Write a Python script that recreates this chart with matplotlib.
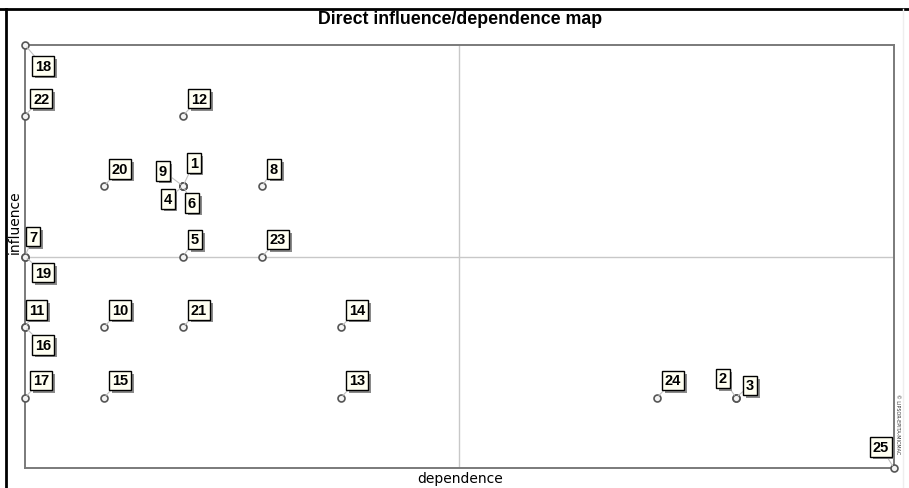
import numpy as np
import matplotlib
matplotlib.use("Agg")
from matplotlib import pyplot as plt
from matplotlib.lines import Line2D
from matplotlib import patheffects

# variable labels and their position on the map
names = [str(i) for i in range(1, 26)]
dependence = [2, 9, 9, 2, 2, 2, 0, 3, 2, 1, 0, 2, 4, 4, 1, 0, 0, 0, 0, 1, 2, 0, 3, 8, 11]
influence = [4, 1, 1, 4, 3, 4, 3, 4, 4, 2, 2, 5, 1, 2, 1, 2, 1, 6, 3, 4, 2, 5, 3, 1, 0]

# label placement (pixels from the point), default is up-right
default_off = (8, 10, 'left', 'bottom')
label_off = {
    '18': (10, -14, 'left', 'top'),
    '19': (10, -9, 'left', 'top'),
    '16': (10, -11, 'left', 'top'),
    '7': (4, 13, 'left', 'bottom'),
    '11': (4, 10, 'left', 'bottom'),
    '9': (-16, 8, 'right', 'bottom'),
    '1': (7, 16, 'left', 'bottom'),
    '4': (-11, -6, 'right', 'top'),
    '6': (5, -10, 'left', 'top'),
    '2': (-9, 12, 'right', 'bottom'),
    '3': (10, 5, 'left', 'bottom'),
    '25': (-5, 14, 'right', 'bottom'),
}

fig = plt.figure(figsize=(9.09, 4.89), dpi=100)
ax = fig.add_axes([25 / 909, 1 - 469 / 489, 869 / 909, 423 / 489])
ax.set_xlim(0, 11)
ax.set_ylim(0, 6)
ax.set_xticks([])
ax.set_yticks([])
for s in ax.spines.values():
    s.set_color('#7a7a7a')
    s.set_linewidth(1.4)

ax.axvline(5.5, color='#c8c8c8', lw=1)
ax.axhline(3, color='#c8c8c8', lw=1)

ax.plot(dependence, influence, 'o', ms=5, mfc='#f4f4f4', mec='#555555', mew=1.2,
        zorder=5, clip_on=False)

shadow = [patheffects.SimplePatchShadow(offset=(2, -2), shadow_rgbFace='#8a8a8a', alpha=1),
          patheffects.Normal()]
for n, x, y in zip(names, dependence, influence):
    dx, dy, ha, va = label_off.get(n, default_off)
    t = ax.annotate(n, (x, y), xytext=(dx, dy), textcoords='offset pixels',
                    ha=ha, va=va, fontsize=10.5, fontweight='bold', family='Liberation Sans',
                    color='black',
                    bbox=dict(boxstyle='square,pad=0.18', fc='#fffff2', ec='black', lw=1),
                    arrowprops=dict(arrowstyle='-', color='#c0c0c0', lw=0.8,
                                    shrinkA=0, shrinkB=2),
                    zorder=7, annotation_clip=False)
    t.get_bbox_patch().set_path_effects(shadow)

fig.text(460 / 909, 1 - 20 / 489, 'Direct influence/dependence map', ha='center',
         va='center', fontsize=12.8, fontweight='bold', family='Liberation Sans')
fig.text(15 / 909, 1 - 222 / 489, 'influence', ha='center', va='center',
         rotation=90, fontsize=10, family='DejaVu Sans')
fig.text(460 / 909, 1 - 479 / 489, 'dependence', ha='center', va='center',
         fontsize=10, family='DejaVu Sans')
fig.text(898 / 909, 1 - 424 / 489, '\u00a9 LIPSOR-EPITA-MICMAC', ha='center',
         va='center', rotation=270, fontsize=3.5, color='#333333')

# outer frame of the screenshot
fig.add_artist(Line2D([0, 1], [1 - 10 / 489] * 2, transform=fig.transFigure,
                      color='black', lw=2))
fig.add_artist(Line2D([6 / 909] * 2, [0, 1 - 10 / 489], transform=fig.transFigure,
                      color='black', lw=2))
fig.add_artist(Line2D([903 / 909] * 2, [0, 1 - 10 / 489], transform=fig.transFigure,
                      color='#eeeeee', lw=1))

fig.savefig('out.png', dpi=100)
